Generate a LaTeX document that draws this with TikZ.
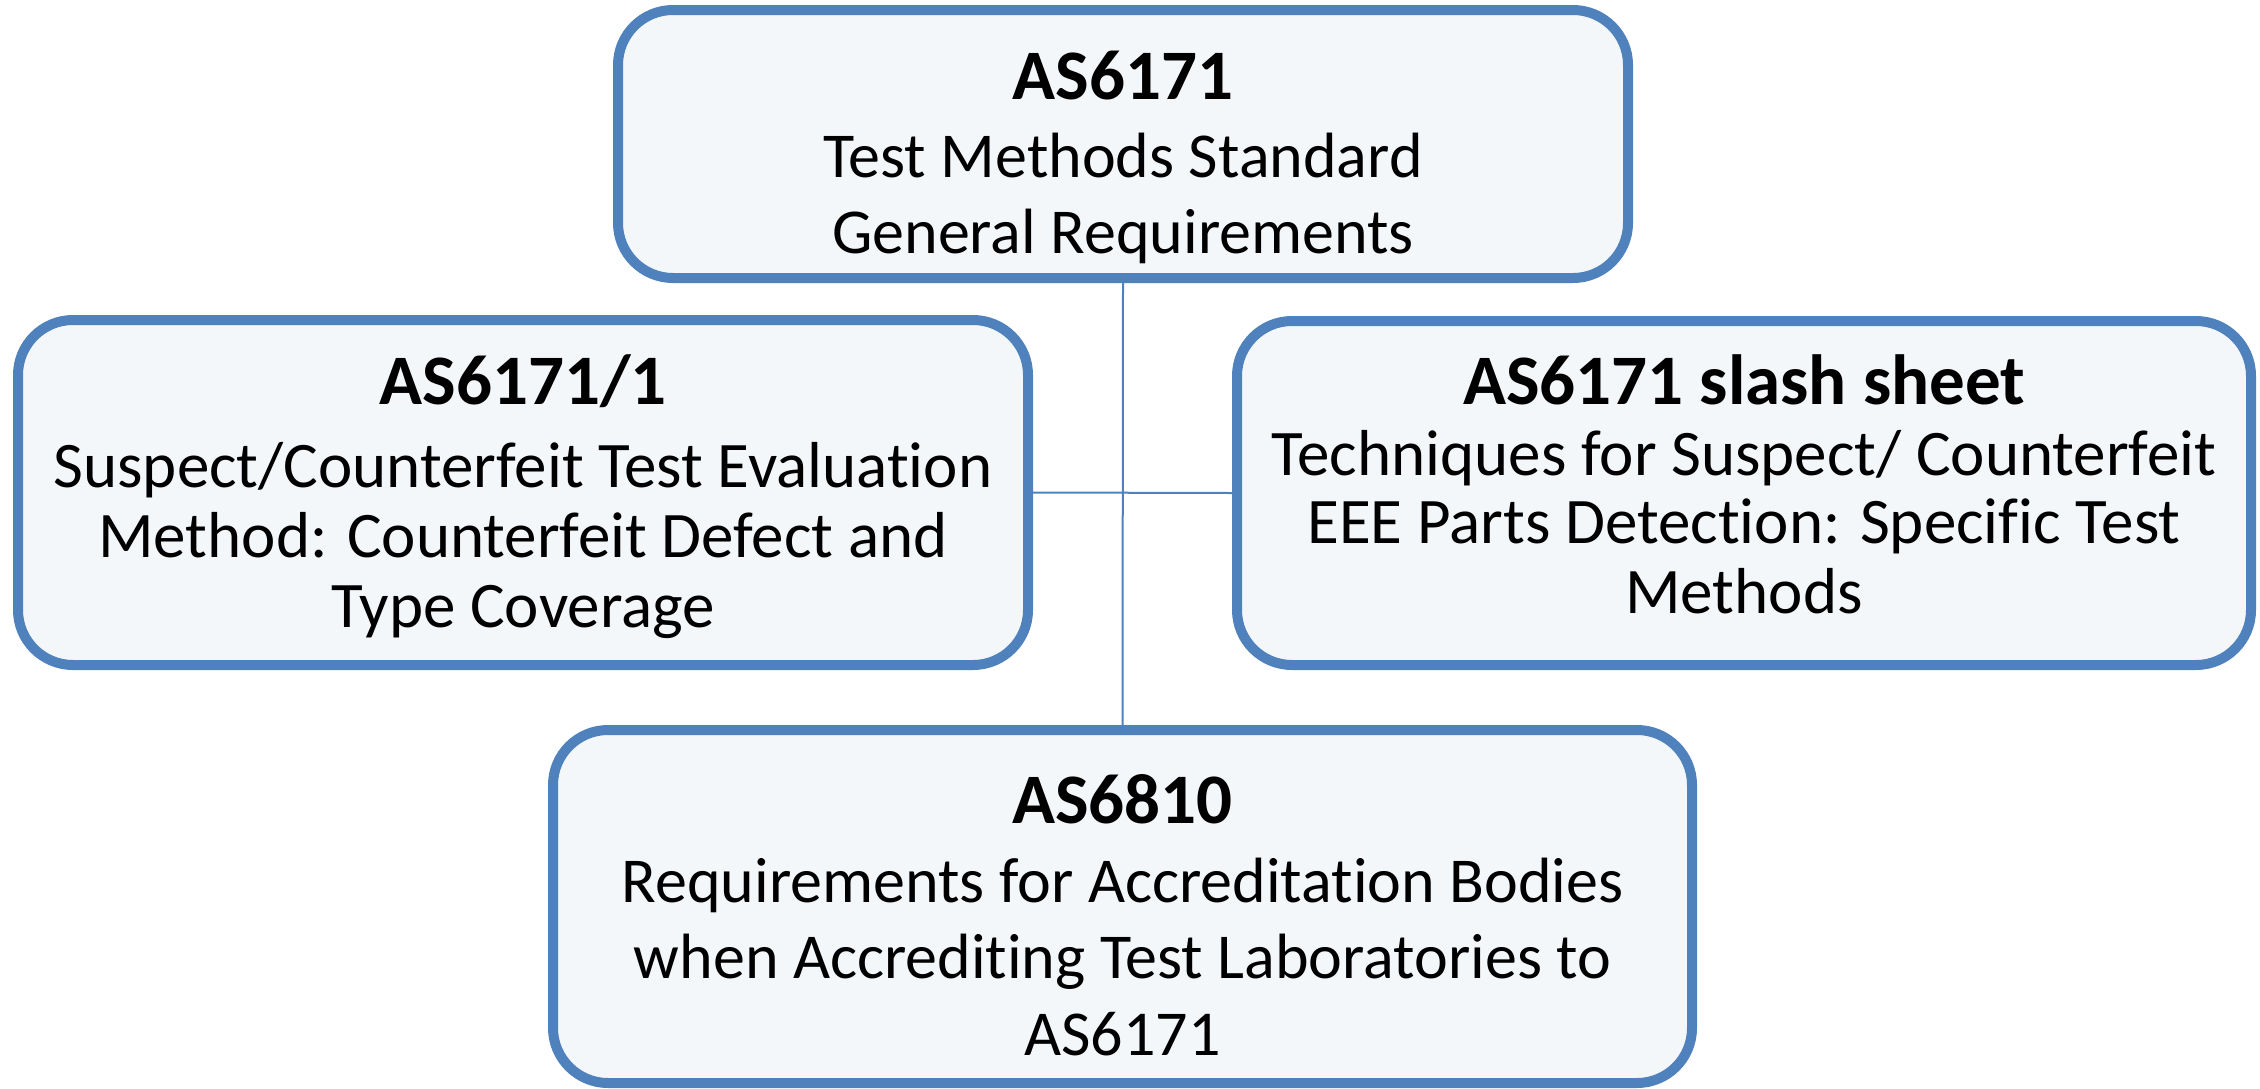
\documentclass[tikz,border=0pt]{standalone}
\usepackage{fontspec}
\setmainfont{Carlito}[Ligatures={NoCommon,NoRequired}]
\definecolor{edgeblue}{RGB}{79,129,189}
\definecolor{boxfill}{RGB}{244,247,250}
\tikzset{
  stdbox/.style={draw=edgeblue, fill=boxfill, line width=10pt, rounded corners=55pt,
                 rectangle, inner sep=0pt},
  title/.style={anchor=base, inner sep=0pt, font=\fontsize{71}{80}\selectfont\bfseries},
  body/.style={anchor=base, inner sep=0pt, font=\fontsize{64}{76}\selectfont},
  sidebody/.style={anchor=base, inner sep=0pt, font=\fontsize{65}{70}\selectfont},
  link/.style={draw=edgeblue, line width=2pt}
}
\begin{document}
\begin{tikzpicture}[x=1pt, y=-1pt]
  \useasboundingbox (0,0) rectangle (2260,1088);

  % boxes
  \node[stdbox, minimum width=1010pt, minimum height=268pt] (top) at (1123,144) {};
  \node[stdbox, minimum width=1010pt, minimum height=345pt] (left) at (523,492.5) {};
  \node[stdbox, minimum width=1014pt, minimum height=344pt] (right) at (1744,493) {};
  \node[stdbox, minimum width=1139pt, minimum height=353pt] (bottom) at (1122.5,906.5) {};

  % connectors
  \draw[link] (top.south) -- (bottom.north);
  \draw[link] (left.east) -- (right.west);

  % top box text
  \node[title] (topT) at (1123,99) {AS6171};
  \node[body] (topA) at (1123,177) {Test Methods Standard};
  \node[body] (topB) at (1123,253) {General Requirements};

  % left box text
  \node[title] (leftT) at (523,404) {AS6171/1};
  \node[sidebody] (leftA) at (523,487) {Suspect/Counterfeit Test Evaluation};
  \node[sidebody] (leftB) at (523,557) {Method: Counterfeit Defect and};
  \node[sidebody] (leftC) at (523,627) {Type Coverage};

  % right box text
  \node[title] (rightT) at (1744,404) {AS6171 slash sheet};
  \node[sidebody] (rightA) at (1744,475) {Techniques for Suspect/ Counterfeit};
  \node[sidebody] (rightB) at (1744,543) {EEE Parts Detection: Specific Test};
  \node[sidebody] (rightC) at (1744,613) {Methods};

  % bottom box text
  \node[title] (botT) at (1122.5,823) {AS6810};
  \node[body] (botA) at (1122.5,902) {Requirements for Accreditation Bodies};
  \node[body] (botB) at (1122.5,978) {when Accrediting Test Laboratories to};
  \node[body] (botC) at (1122.5,1055) {AS6171};
\end{tikzpicture}
\end{document}
